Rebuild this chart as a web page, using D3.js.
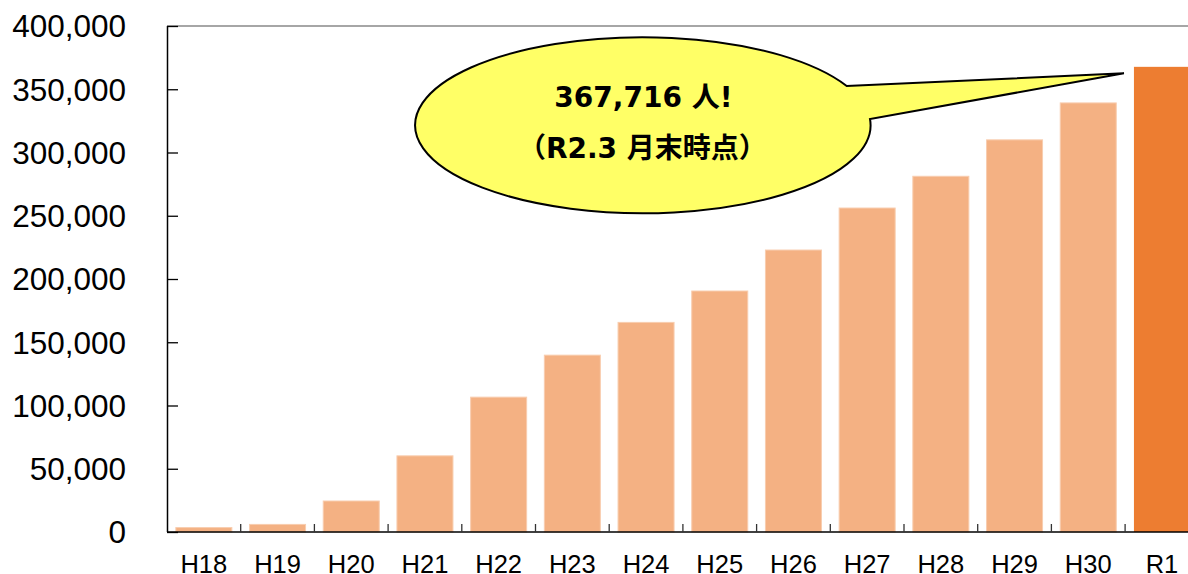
<!DOCTYPE html>
<html>
<head>
<meta charset="utf-8">
<script src="https://cdn.jsdelivr.net/npm/d3@7"></script>
<style>
  html, body { margin: 0; padding: 0; background: #fff; }
  svg { display: block; }
</style>
</head>
<body>
<svg id="chart" width="1188" height="574"></svg>
<script>
const categories = ["H18","H19","H20","H21","H22","H23","H24","H25","H26","H27","H28","H29","H30","R1"];
const values = [3500, 6000, 24500, 60200, 106600, 139800, 165700, 190500, 222900, 256100, 281200, 310000, 339200, 367716];
const yTicks = [0, 50000, 100000, 150000, 200000, 250000, 300000, 350000, 400000];
const calloutLines = ["367,716 人!", "（R2.3 月末時点）"];

(function () {
const svg = d3.select("#chart");
const W = 1188;
const plotLeft = 167, plotTop = 26, plotBottom = 532, rightRange = 1198.8;

const x = d3.scaleBand().domain(categories).range([plotLeft, rightRange]).paddingInner(0.24).paddingOuter(0.12);
const y = d3.scaleLinear().domain([0, 400000]).range([plotBottom, plotTop]);

// top border
svg.append("line").attr("x1", plotLeft).attr("x2", W).attr("y1", plotTop).attr("y2", plotTop)
  .attr("stroke", "#888").attr("stroke-width", 1.3);

// bars
svg.append("g").selectAll("rect").data(categories).join("rect")
  .attr("x", d => x(d))
  .attr("width", x.bandwidth())
  .attr("y", (d, i) => y(values[i]))
  .attr("height", (d, i) => plotBottom - y(values[i]))
  .attr("fill", (d, i) => i === categories.length - 1 ? "#ED7D31" : "#F4B183")
  .attr("stroke", (d, i) => i === categories.length - 1 ? "none" : "#F8CDAF")
  .attr("stroke-width", 1);

// y axis
const yAxis = svg.append("g").attr("transform", `translate(${plotLeft},0)`)
  .call(d3.axisRight(y).tickValues(yTicks).tickSize(11).tickFormat(() => ""));
yAxis.select(".domain").attr("stroke", "#000").attr("stroke-width", 1.5).attr("d", `M0.5,${plotTop}V${plotBottom}`);
yAxis.selectAll(".tick line").attr("stroke", "#000").attr("stroke-width", 1.3);

svg.append("g").selectAll("text").data(yTicks).join("text")
  .attr("x", 126).attr("y", d => y(d))
  .attr("dy", "0.36em")
  .attr("text-anchor", "end")
  .attr("font-family", "'Liberation Sans', Arial, sans-serif")
  .attr("font-size", 31.5)
  .attr("fill", "#000")
  .text(d => d3.format(",")(d));

// x axis
svg.append("line").attr("x1", plotLeft).attr("x2", W).attr("y1", plotBottom).attr("y2", plotBottom)
  .attr("stroke", "#000").attr("stroke-width", 1.5);
const boundaries = categories.slice(1).map(c => x(c) - x.step() * x.paddingInner() / 2);
svg.append("g").selectAll("line").data(boundaries).join("line")
  .attr("x1", d => d).attr("x2", d => d)
  .attr("y1", plotBottom).attr("y2", plotBottom - 8)
  .attr("stroke", "#333").attr("stroke-width", 1.3);

svg.append("g").selectAll("text").data(categories).join("text")
  .attr("x", d => x(d) + x.bandwidth() / 2)
  .attr("y", 572.5)
  .attr("text-anchor", "middle")
  .attr("font-family", "'Liberation Sans', Arial, sans-serif")
  .attr("font-size", 25.5)
  .attr("fill", "#000")
  .text(d => d);

// callout
const cx = 643.4, rx = 227.7, ry = 88;
const ax = 846.7, ay = 86, bx = 870, by = 119;
const tipX = x("R1") - 10, tipY = 73.3;
const path = `M${ax},${ay} A${rx},${ry} 0 1 0 ${bx},${by} L${tipX},${tipY} Z`;
svg.append("path").attr("d", path)
  .attr("fill", "#FFFF66").attr("stroke", "#000").attr("stroke-width", 2).attr("stroke-linejoin", "miter");

const callout = svg.append("g")
  .attr("font-family", "'DejaVu Sans', 'Noto Sans CJK JP', sans-serif")
  .attr("font-weight", "bold")
  .attr("font-size", 28)
  .attr("text-anchor", "middle")
  .attr("fill", "#000");
callout.append("text").attr("x", cx).attr("y", 107).text(calloutLines[0]);
callout.append("text").attr("x", cx - 1).attr("y", 158).text(calloutLines[1]);
})();
</script>
</body>
</html>
